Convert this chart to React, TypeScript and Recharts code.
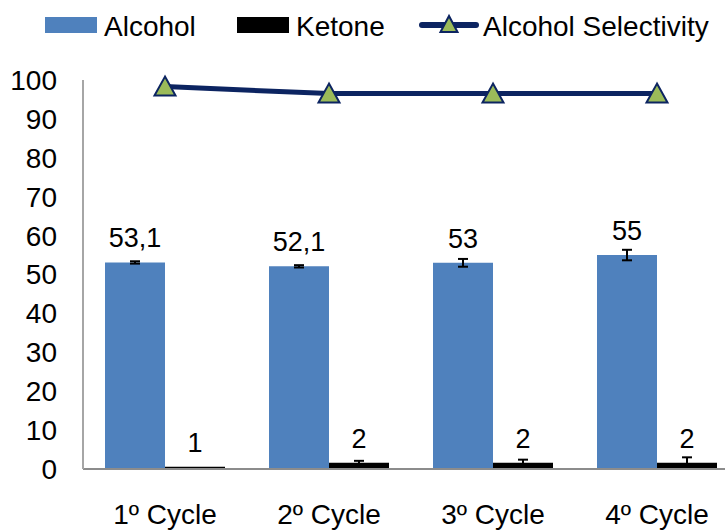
import React from 'react';
import { ComposedChart, Bar, Line, XAxis, YAxis, Legend, LabelList, ErrorBar } from 'recharts';

const categories = ['1º Cycle', '2º Cycle', '3º Cycle', '4º Cycle'];
const alcohol = [53.1, 52.1, 53.0, 55.0];
const alcoholErr = [0.3, 0.3, 1.0, 1.35];
const alcoholLabels = ['53,1', '52,1', '53', '55'];
const ketone = [0.6, 1.6, 1.6, 1.6];
const ketoneErr = [0, 0.5, 0.8, 1.4];
const ketoneLabels = ['1', '2', '2', '2'];
const selectivity = [98.3, 96.5, 96.5, 96.5];
const yTicks = [0, 10, 20, 30, 40, 50, 60, 70, 80, 90, 100];

const data = categories.map((c, i) => ({
  name: c,
  alcohol: alcohol[i],
  alcoholErr: alcoholErr[i],
  alcoholLabel: alcoholLabels[i],
  ketone: ketone[i],
  ketoneErr: ketoneErr[i],
  ketoneLabel: ketoneLabels[i],
  selectivity: selectivity[i],
}));

const BLUE = '#4F81BD';
const NAVY = '#0C2461';
const GREEN = '#9BBB59';
const FONT = '"Liberation Sans", Arial, sans-serif';

const Triangle = (props: any) => {
  const { cx, cy, key } = props;
  if (cx == null || cy == null) return null;
  const pts = `${cx},${cy - 10} ${cx - 10.5},${cy + 9} ${cx + 10.5},${cy + 9}`;
  return <polygon key={key} points={pts} fill={GREEN} stroke={NAVY} strokeWidth={2} strokeLinejoin="miter" />;
};

const LegendContent = () => (
  <svg width={725} height={50} style={{ display: 'block', fontFamily: FONT }}>
    <rect x={45} y={17} width={52} height={16} fill={BLUE} />
    <text x={104} y={36} fontSize={28} fill="#000">Alcohol</text>
    <rect x={237} y={17} width={52} height={16} fill="#000" />
    <text x={296} y={36} fontSize={28} fill="#000">Ketone</text>
    <line x1={422} x2={476} y1={25} y2={25} stroke={NAVY} strokeWidth={6} strokeLinecap="round" />
    <polygon points="449,16 440.5,32 457.5,32" fill={GREEN} stroke={NAVY} strokeWidth={2} />
    <text x={483} y={36} fontSize={28} fill="#000">Alcohol Selectivity</text>
  </svg>
);

export default function App() {
  return (
    <div style={{ position: 'fixed', left: 0, top: 0, width: 725, height: 531, overflow: 'hidden', background: '#fff', fontFamily: FONT }}>
      <ComposedChart
        width={760}
        height={531}
        data={data}
        margin={{ top: 80, right: 21, bottom: 0, left: 0 }}
        barGap={0}
      >
        <XAxis
          dataKey="name"
          axisLine={{ stroke: '#8C8C8C', strokeWidth: 2 }}
          tickLine={false}
          tickMargin={29}
          height={62}
          tick={{ fill: '#000', fontSize: 28 }}
          interval={0}
        />
        <YAxis
          domain={[0, 100]}
          ticks={yTicks}
          width={83}
          axisLine={{ stroke: '#A6A6A6', strokeWidth: 2 }}
          tickLine={false}
          tickMargin={20}
          tick={{ fill: '#000', fontSize: 28 }}
          interval={0}
        />
        <Legend verticalAlign="middle" align="center" layout="horizontal" wrapperStyle={{ top: 0, left: 0, width: 725 }} content={<LegendContent />} />
        <Bar dataKey="alcohol" fill={BLUE} barSize={60} isAnimationActive={false}>
          <ErrorBar dataKey="alcoholErr" width={5} strokeWidth={2} stroke="#000" direction="y" />
          <LabelList dataKey="alcoholLabel" position="top" offset={15} fill="#000" fontSize={27} />
        </Bar>
        <Bar dataKey="ketone" fill="#000" barSize={60} isAnimationActive={false}>
          <ErrorBar dataKey="ketoneErr" width={5} strokeWidth={2} stroke="#000" direction="y" />
          <LabelList dataKey="ketoneLabel" position="top" offset={15} fill="#000" fontSize={27} />
        </Bar>
        <Line
          dataKey="selectivity"
          stroke={NAVY}
          strokeWidth={5}
          dot={Triangle}
          activeDot={false}
          isAnimationActive={false}
        />
      </ComposedChart>
    </div>
  );
}
